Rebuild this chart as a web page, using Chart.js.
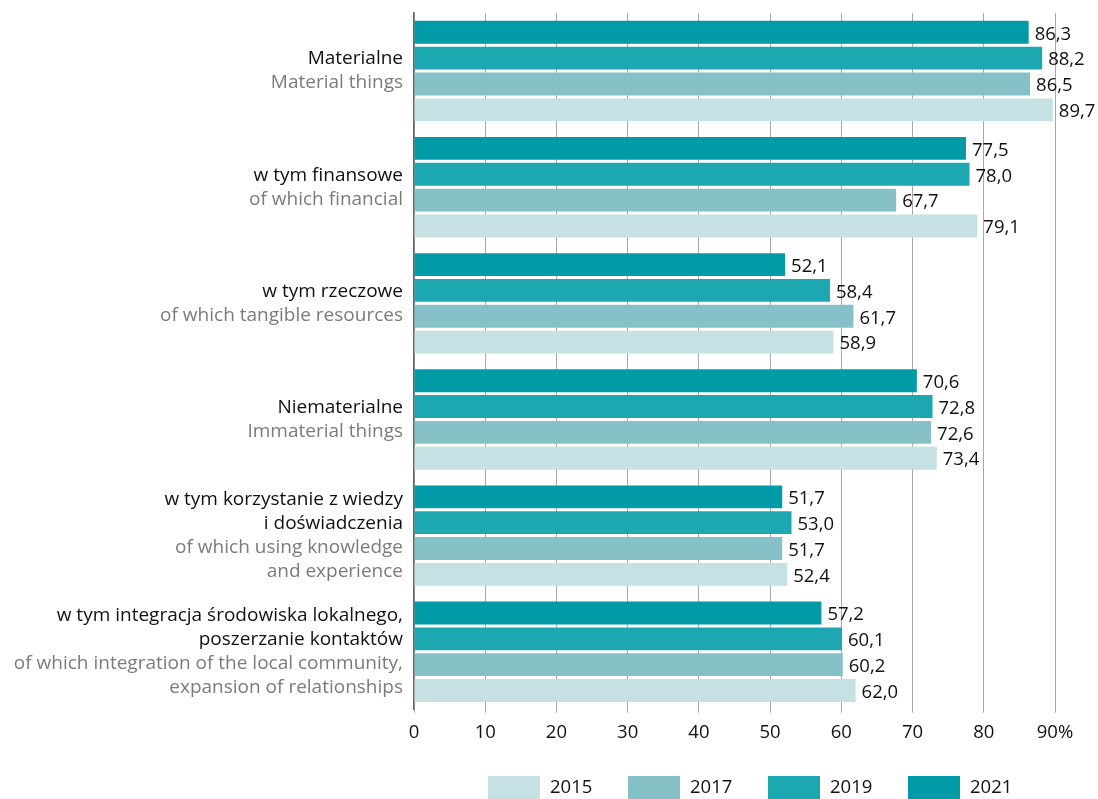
<!DOCTYPE html>
<html>
<head>
<meta charset="utf-8">
<script src="https://cdn.jsdelivr.net/npm/chart.js@4"></script>
<style>
  html, body { margin: 0; padding: 0; background: #fff; }
  #wrap { width: 1098px; height: 799px; }
</style>
</head>
<body>
<div id="wrap"><canvas id="myChart"></canvas></div>
<script>
// kategorie: linie po polsku (czarne) i po angielsku (szare)
const labelsPL = [
  ["Materialne"],
  ["w tym finansowe"],
  ["w tym rzeczowe"],
  ["Niematerialne"],
  ["w tym korzystanie z wiedzy", "i doświadczenia"],
  ["w tym integracja środowiska lokalnego,", "poszerzanie kontaktów"]
];
const labelsEN = [
  ["Material things"],
  ["of which financial"],
  ["of which tangible resources"],
  ["Immaterial things"],
  ["of which using knowledge", "and experience"],
  ["of which integration of the local community,", "expansion of relationships"]
];

const years = ["2021", "2019", "2017", "2015"];
const v2021 = [86.3, 77.5, 52.1, 70.6, 51.7, 57.2];
const v2019 = [88.2, 78.0, 58.4, 72.8, 53.0, 60.1];
const v2017 = [86.5, 67.7, 61.7, 72.6, 51.7, 60.2];
const v2015 = [89.7, 79.1, 58.9, 73.4, 52.4, 62.0];
const colors = ["#009ba7", "#1da7b0", "#86c1c8", "#c5e1e4"];

const xTicks = [0, 10, 20, 30, 40, 50, 60, 70, 80, 90];

const FONT = "'Open Sans', sans-serif";
const FS = 18.5;

/* etykiety osi Y w dwóch kolorach */
const yLabelsPlugin = {
  id: "yLabels",
  afterDraw(chart) {
    const { ctx, chartArea } = chart;
    const yScale = chart.scales.y;
    const lh = 24;
    ctx.save();
    ctx.font = "19px " + FONT;
    ctx.textAlign = "right";
    ctx.textBaseline = "middle";
    labelsPL.forEach((pl, i) => {
      const lines = pl.map(t => [t, "#111"]).concat(labelsEN[i].map(t => [t, "#7b7b7b"]));
      const cy = yScale.getPixelForValue(i);
      const y0 = cy - (lines.length - 1) * lh / 2;
      lines.forEach(([t, c], j) => {
        ctx.fillStyle = c;
        ctx.fillText(t, chartArea.left - 11, y0 + j * lh);
      });
    });
    ctx.restore();
  }
};

/* wartości przy słupkach */
const valuesPlugin = {
  id: "barValues",
  afterDatasetsDraw(chart) {
    const { ctx } = chart;
    ctx.save();
    ctx.font = FS + "px " + FONT;
    ctx.fillStyle = "#111";
    ctx.textAlign = "left";
    ctx.textBaseline = "middle";
    chart.data.datasets.forEach((ds, di) => {
      chart.getDatasetMeta(di).data.forEach((bar, i) => {
        ctx.fillText(ds.data[i].toFixed(1).replace(".", ","), bar.x + 6, bar.y + 2);
      });
    });
    ctx.restore();
  }
};

/* legenda na dole: 2015, 2017, 2019, 2021 */
const legendPlugin = {
  id: "bottomLegend",
  afterDraw(chart) {
    const { ctx } = chart;
    const items = chart.data.datasets.slice().reverse();
    ctx.save();
    ctx.font = FS + "px " + FONT;
    ctx.textAlign = "left";
    ctx.textBaseline = "middle";
    items.forEach((ds, k) => {
      const x = 488 + k * 140;
      ctx.fillStyle = ds.backgroundColor;
      ctx.fillRect(x, 776, 52, 23);
      ctx.fillStyle = "#111";
      ctx.fillText(ds.label, x + 62, 788);
    });
    ctx.restore();
  }
};

const ctx = document.getElementById("myChart");

new Chart(ctx, {
  type: "bar",
  data: {
    labels: labelsPL.map(l => l.join(" ")),
    datasets: [
      { label: years[0], data: v2021, backgroundColor: colors[0] },
      { label: years[1], data: v2019, backgroundColor: colors[1] },
      { label: years[2], data: v2017, backgroundColor: colors[2] },
      { label: years[3], data: v2015, backgroundColor: colors[3] }
    ]
  },
  options: {
    indexAxis: "y",
    responsive: true,
    maintainAspectRatio: false,
    animation: false,
    categoryPercentage: 0.89,
    barPercentage: 0.885,
    layout: { padding: { left: 406, right: 43, top: 13, bottom: 46 } },
    scales: {
      x: {
        min: 0,
        max: 90,
        afterBuildTicks: axis => { axis.ticks = xTicks.map(v => ({ value: v })); },
        grid: { color: "#a8a8a8", lineWidth: 1, drawTicks: true, tickLength: 3 },
        border: { display: false },
        ticks: {
          padding: 9,
          color: "#111",
          font: { family: FONT, size: FS },
          callback: v => (v === 90 ? "90%" : v)
        }
      },
      y: {
        grid: { display: false },
        border: { display: true, color: "#666", width: 1.5 },
        ticks: { display: false }
      }
    },
    plugins: {
      legend: { display: false },
      tooltip: { enabled: false }
    }
  },
  plugins: [yLabelsPlugin, valuesPlugin, legendPlugin]
});
</script>
</body>
</html>
